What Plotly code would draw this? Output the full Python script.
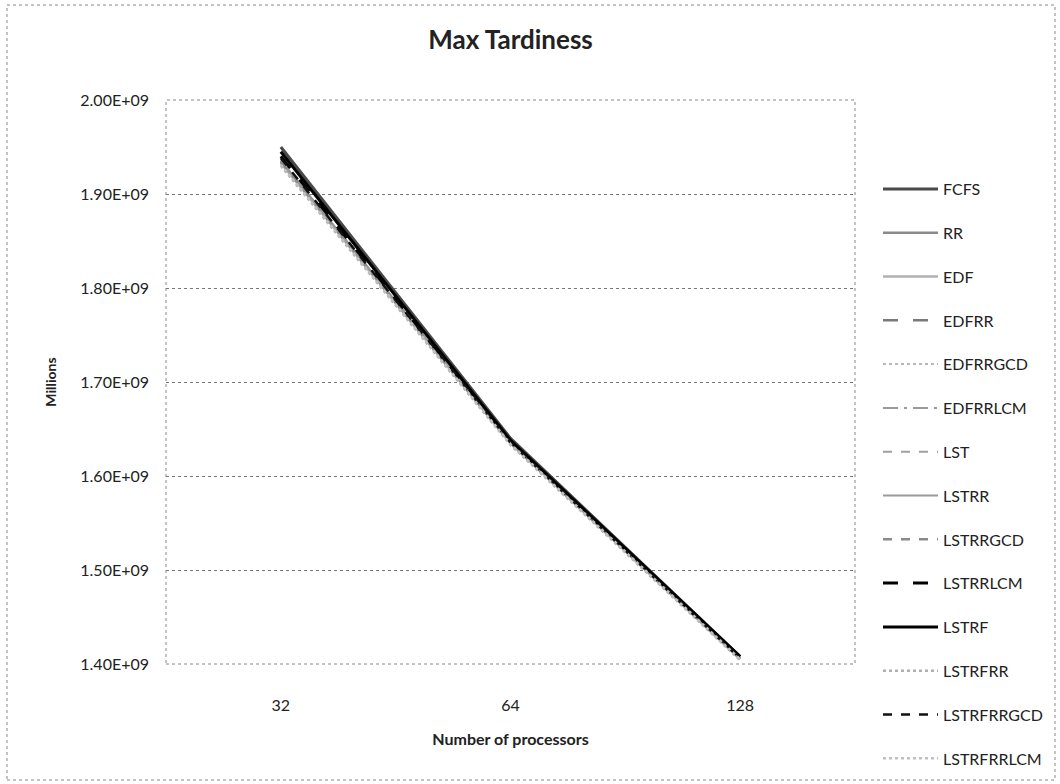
import plotly.graph_objects as go

# Number of processors (category axis)
processors = ["32", "64", "128"]

# Max tardiness per scheduling policy
fcfs = [1.950e9, 1.640e9, 1.408e9]
rr = [1.935e9, 1.636e9, 1.406e9]
edf = [1.933e9, 1.635e9, 1.405e9]
edfrr = [1.935e9, 1.636e9, 1.406e9]
edfrrgcd = [1.932e9, 1.634e9, 1.405e9]
edfrrlcm = [1.934e9, 1.635e9, 1.406e9]
lst = [1.936e9, 1.636e9, 1.406e9]
lstrr = [1.935e9, 1.636e9, 1.406e9]
lstrrgcd = [1.934e9, 1.635e9, 1.406e9]
lstrrlcm = [1.940e9, 1.637e9, 1.407e9]
lstrf = [1.945e9, 1.638e9, 1.408e9]
lstrfrr = [1.930e9, 1.633e9, 1.404e9]
lstrfrrgcd = [1.938e9, 1.636e9, 1.406e9]
lstrfrrlcm = [1.931e9, 1.634e9, 1.405e9]

y_tick_values = [1.4e9, 1.5e9, 1.6e9, 1.7e9, 1.8e9, 1.9e9, 2.0e9]
y_tick_labels = ["1.40E+09", "1.50E+09", "1.60E+09", "1.70E+09",
                 "1.80E+09", "1.90E+09", "2.00E+09"]

series = [
    ("FCFS", fcfs, "#4a4a4a", "solid", 3),
    ("RR", rr, "#8a8a8a", "solid", 2.5),
    ("EDF", edf, "#b0b0b0", "solid", 2.5),
    ("EDFRR", edfrr, "#7a7a7a", "longdash", 2.5),
    ("EDFRRGCD", edfrrgcd, "#b8b8b8", "dot", 2),
    ("EDFRRLCM", edfrrlcm, "#9a9a9a", "longdashdot", 2),
    ("LST", lst, "#a0a0a0", "dash", 2),
    ("LSTRR", lstrr, "#9a9a9a", "solid", 2),
    ("LSTRRGCD", lstrrgcd, "#8a8a8a", "dash", 2.5),
    ("LSTRRLCM", lstrrlcm, "#000000", "longdash", 3),
    ("LSTRF", lstrf, "#000000", "solid", 3),
    ("LSTRFRR", lstrfrr, "#b0b0b0", "dot", 2.5),
    ("LSTRFRRGCD", lstrfrrgcd, "#111111", "dash", 2.5),
    ("LSTRFRRLCM", lstrfrrlcm, "#c0c0c0", "dot", 2.5),
]

FONT = "Lato"
TEXT = "#222222"

fig = go.Figure()
for name, vals, color, dash, width in series:
    fig.add_trace(go.Scatter(
        x=processors, y=vals, mode="lines", name=name, legendgroup=name,
        line=dict(color=color, dash=dash, width=width),
    ))

# Plot area: x 166..855, y 100..664 in a 1060x784 page
L, R, T, B = 166, 205, 100, 120
W, H = 1060, 784
pw, ph = W - L - R, H - T - B

def px(x):
    return (x - L) / pw

def py(y):
    return (H - B - y) / ph

fig.update_layout(
    width=W, height=H,
    margin=dict(l=L, r=R, t=T, b=B, autoexpand=False),
    paper_bgcolor="white", plot_bgcolor="white",
    font=dict(family=FONT, size=16, color=TEXT),
    title=dict(text="<b>Max Tardiness</b>", x=0.5, xref="paper",
               y=1 - 40 / H, yref="container", yanchor="middle",
               font=dict(family=FONT, size=26, color=TEXT)),
    showlegend=True,
    legend=dict(x=px(878), y=py(172), xanchor="left", yanchor="top",
                font=dict(family=FONT, size=16, color=TEXT),
                tracegroupgap=20, itemwidth=55, maxheight=720,
                bgcolor="rgba(0,0,0,0)"),
    xaxis=dict(type="category", range=[-0.5, 2.5], showgrid=False,
               zeroline=False, showline=False, ticks="",
               ticklabelstandoff=30,
               tickfont=dict(family=FONT, size=16, color=TEXT),
               title=dict(text="<b>Number of processors</b>", standoff=20,
                          font=dict(family=FONT, size=16, color=TEXT))),
    yaxis=dict(range=[1.4e9, 2.0e9], tickvals=y_tick_values,
               ticktext=y_tick_labels, showgrid=True, gridcolor="#777777",
               griddash="dot", gridwidth=1, zeroline=False, showline=False,
               ticks="", ticklabelstandoff=16,
               tickfont=dict(family=FONT, size=16, color=TEXT),
               title=dict(text="<b>Millions</b>", standoff=20,
                          font=dict(family=FONT, size=14, color=TEXT))),
)

# Plot-area frame and outer chart frame, both dotted
fig.add_shape(type="rect", xref="paper", yref="paper", x0=0, y0=0, x1=1, y1=1,
              line=dict(color="#888888", width=1, dash="dot"), layer="below")
fig.add_shape(type="rect", xref="paper", yref="paper",
              x0=px(7), x1=px(1055), y0=py(780), y1=py(5),
              line=dict(color="#888888", width=1, dash="dot"), layer="below")

fig.write_html("out.html")
